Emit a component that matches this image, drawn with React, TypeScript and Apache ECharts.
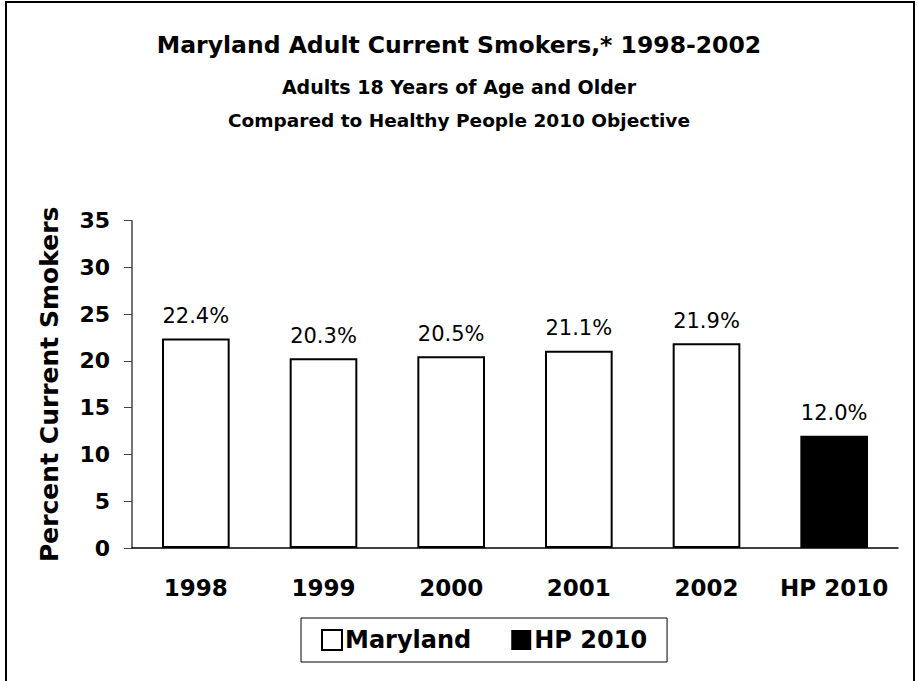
import React, { useEffect, useRef } from "react";
import * as echarts from "echarts";

const categories = ["1998", "1999", "2000", "2001", "2002", "HP 2010"];
const marylandValues = [22.4, 20.3, 20.5, 21.1, 21.9, null];
const hpValues = [null, null, null, null, null, 12.0];
const yTicks = [0, 5, 10, 15, 20, 25, 30, 35];

const FONT = "DejaVu Sans";

export default function App() {
  const ref = useRef<HTMLDivElement>(null);
  useEffect(() => {
    if (!ref.current) return;
    const chart = echarts.init(ref.current, null, { renderer: "svg" });
    const labelStyle = {
      show: true,
      position: "top",
      distance: 12,
      fontFamily: FONT,
      fontSize: 21,
      color: "#000",
      formatter: (p: any) => (p.value == null ? "" : Number(p.value).toFixed(1) + "%"),
    };
    chart.setOption({
      animation: false,
      backgroundColor: "#fff",
      graphic: [
        {
          type: "rect",
          shape: { x: 6, y: 2, width: 908, height: 700 },
          style: { fill: "none", stroke: "#000", lineWidth: 2 },
          silent: true,
        },
        {
          type: "text",
          x: 459,
          y: 45,
          style: {
            text: "Maryland Adult Current Smokers,* 1998-2002",
            fontFamily: FONT,
            fontWeight: "bold",
            fontSize: 23.5,
            fill: "#000",
            align: "center",
            verticalAlign: "middle",
          },
        },
        {
          type: "text",
          x: 459,
          y: 87,
          style: {
            text: "Adults 18 Years of Age and Older",
            fontFamily: FONT,
            fontWeight: "bold",
            fontSize: 19,
            fill: "#000",
            align: "center",
            verticalAlign: "middle",
          },
        },
        {
          type: "text",
          x: 459,
          y: 120,
          style: {
            text: "Compared to Healthy People 2010 Objective",
            fontFamily: FONT,
            fontWeight: "bold",
            fontSize: 18.5,
            fill: "#000",
            align: "center",
            verticalAlign: "middle",
          },
        },
      ],
      legend: {
        left: 301,
        top: 618,
        orient: "horizontal",
        padding: [10, 20, 10, 20],
        itemGap: 40,
        itemWidth: 20,
        itemHeight: 20,
        borderColor: "#000",
        borderWidth: 1,
        textStyle: { fontFamily: FONT, fontWeight: "bold", fontSize: 24, color: "#000", padding: [0, 0, 0, -2] },
        data: [
          { name: "Maryland", icon: "rect", itemStyle: { color: "#fff", borderColor: "#000", borderWidth: 2 } },
          { name: "HP 2010", icon: "rect", itemStyle: { color: "#000", borderColor: "#000", borderWidth: 0 } },
        ],
      },
      grid: { left: 132, top: 220.7, width: 766, height: 327.3, containLabel: false },
      xAxis: {
        type: "category",
        data: categories,
        axisLine: { lineStyle: { color: "#000", width: 1.5 } },
        axisTick: { show: false },
        axisLabel: {
          margin: 28,
          fontFamily: FONT,
          fontWeight: "bold",
          fontSize: 23,
          color: "#000",
          interval: 0,
        },
      },
      yAxis: {
        type: "value",
        min: 0,
        max: yTicks[yTicks.length - 1],
        interval: 5,
        name: "Percent Current Smokers",
        nameLocation: "middle",
        nameGap: 70,
        nameTextStyle: { fontFamily: FONT, fontWeight: "bold", fontSize: 25, color: "#000" },
        splitLine: { show: false },
        axisLine: { show: true, lineStyle: { color: "#444", width: 1.5 } },
        axisTick: { show: true, length: 8, lineStyle: { color: "#444" } },
        axisLabel: { margin: 22, fontFamily: FONT, fontWeight: "bold", fontSize: 22, color: "#000" },
      },
      series: [
        {
          name: "Maryland",
          type: "bar",
          data: marylandValues,
          barWidth: "53%",
          barGap: "-100%",
          itemStyle: { color: "#fff", borderColor: "#000", borderWidth: 2 },
          label: labelStyle,
        },
        {
          name: "HP 2010",
          type: "bar",
          data: hpValues,
          barWidth: "53%",
          barGap: "-100%",
          itemStyle: { color: "#000" },
          label: labelStyle,
        },
      ],
    });
    return () => chart.dispose();
  }, []);
  return (
    <div
      ref={ref}
      style={{ position: "fixed", left: 0, top: 0, width: 918, height: 681 }}
    />
  );
}
